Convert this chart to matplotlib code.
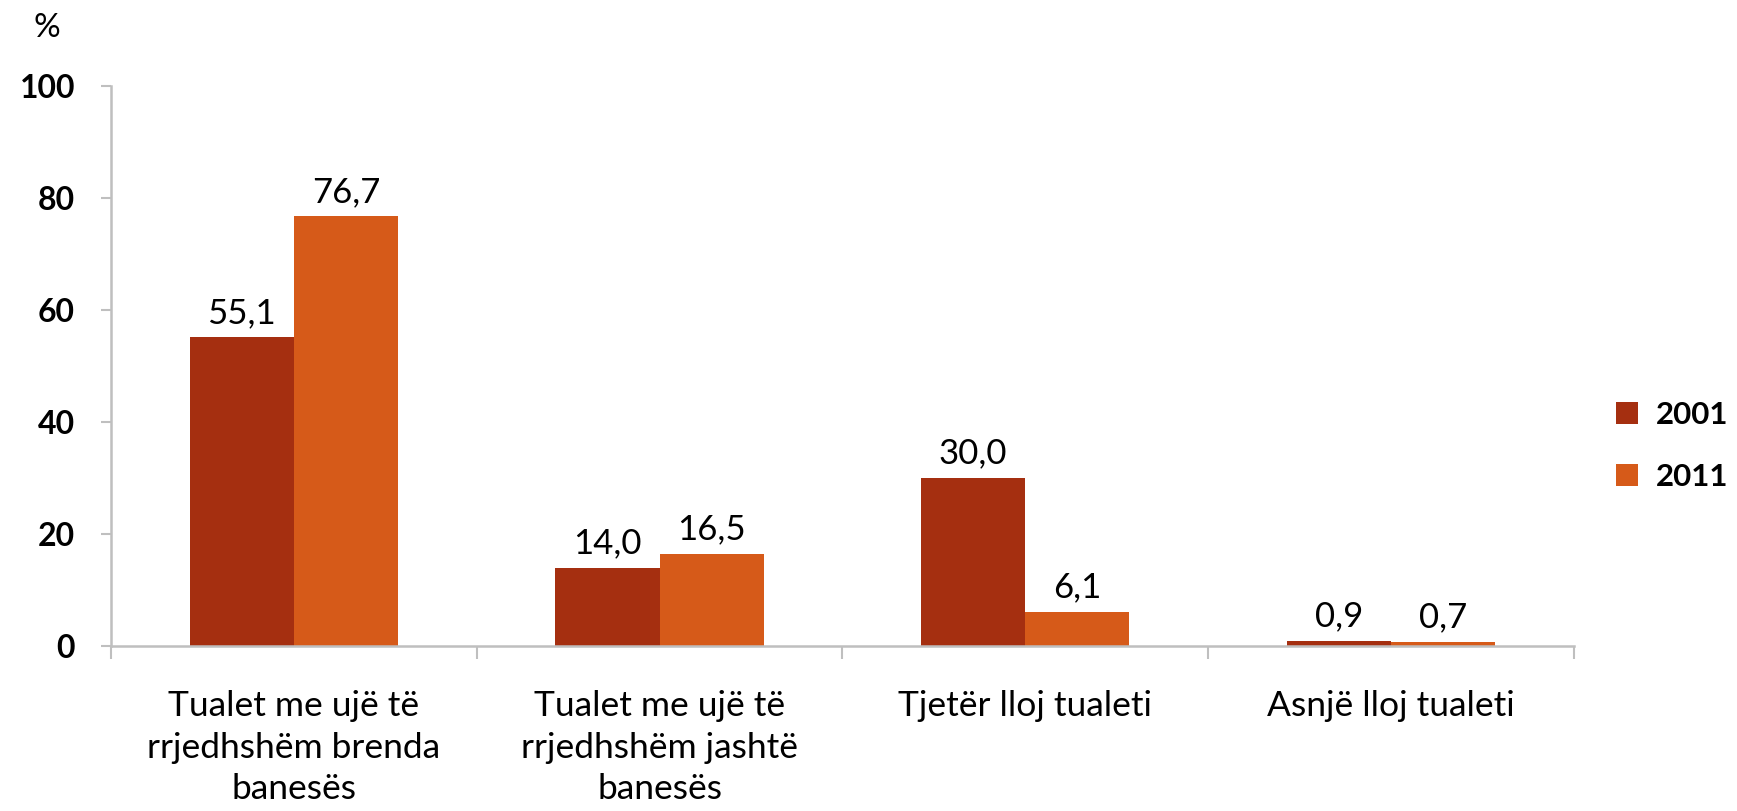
import numpy as np
import matplotlib
matplotlib.use("Agg")
import matplotlib.pyplot as plt

categories = ["Tualet me ujë të\nrrjedhshëm brenda\nbanesës",
              "Tualet me ujë të\nrrjedhshëm jashtë\nbanesës",
              "Tjetër lloj tualeti",
              "Asnjë lloj tualeti"]
years = ["2001", "2011"]
values_2001 = [55.1, 14.0, 30.0, 0.9]
values_2011 = [76.7, 16.5, 6.1, 0.7]
yticks = [0, 20, 40, 60, 80, 100]

plt.rcParams['font.family'] = ['Lato', 'DejaVu Sans']

colors = ['#A52F10', '#D65A19']
axis_grey = '#BFBFBF'

fig = plt.figure(figsize=(17.37, 8.11), dpi=100)
ax = fig.add_axes([0.064, 0.2035, 0.842, 0.6905])

x = np.arange(len(categories))
width = 0.285
series = [values_2001, values_2011]
offsets = [-width / 2, width / 2]

for vals, off, col, lab in zip(series, offsets, colors, years):
    bars = ax.bar(x + off, vals, width, color=col, label=lab, zorder=2)
    for b, v in zip(bars, vals):
        ax.annotate(f"{v:.1f}".replace('.', ','),
                    (b.get_x() + b.get_width() / 2, b.get_height()),
                    xytext=(0, 6), textcoords='offset points',
                    ha='center', va='bottom', fontsize=25, color='black')

ax.set_xlim(-0.5, len(categories) - 0.5)
ax.set_ylim(0, 100)
ax.set_yticks(yticks)
ax.set_yticklabels([str(t) for t in yticks], fontsize=23, fontweight='bold')
ax.tick_params(axis='y', length=7, width=1.5, color=axis_grey, pad=19)

ax.set_xticks(x)
ax.set_xticklabels(categories, fontsize=25.5, linespacing=1.35)
ax.set_xticks(np.arange(len(categories) + 1) - 0.5, minor=True)
ax.tick_params(axis='x', which='major', length=0, pad=32)
ax.tick_params(axis='x', which='minor', length=9, width=1.5, color=axis_grey)

for s in ['top', 'right']:
    ax.spines[s].set_visible(False)
for s in ['left', 'bottom']:
    ax.spines[s].set_color(axis_grey)
    ax.spines[s].set_linewidth(1.8)

fig.text(0.027, 0.965, '%', fontsize=24, ha='center', va='center')

leg = ax.legend(loc='center left', bbox_to_anchor=(0.914, 0.45),
                bbox_transform=fig.transFigure, frameon=False,
                handlelength=0.7, handleheight=0.7, handletextpad=0.6,
                labelspacing=1.1, prop={'size': 22.5, 'weight': 'bold'})

fig.savefig('out.png', dpi=100)
